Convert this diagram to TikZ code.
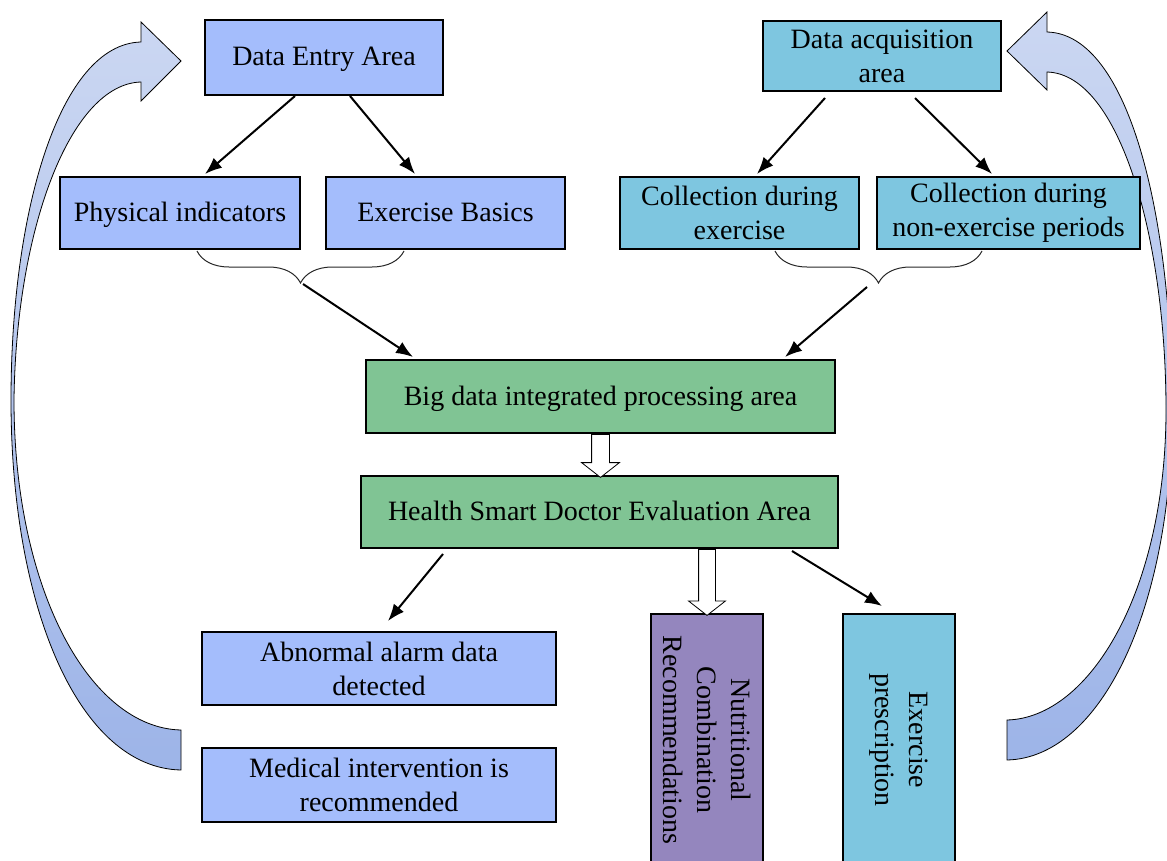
\documentclass[tikz,border=0pt]{standalone}
\usepackage{fontspec}
\setmainfont{Liberation Serif}
\usetikzlibrary{positioning, arrows.meta, shapes, decorations.pathreplacing}

\definecolor{boxblue}{RGB}{164,189,252}
\definecolor{boxcyan}{RGB}{126,198,224}
\definecolor{boxgreen}{RGB}{128,196,148}
\definecolor{boxpurple}{RGB}{148,134,190}
\definecolor{loopTop}{RGB}{203,215,242}
\definecolor{loopBottom}{RGB}{157,180,232}

\begin{document}
\begin{tikzpicture}[x=1pt, y=-1pt,
    box/.style={draw=black, line width=2pt, minimum height=72pt, align=center, inner sep=2pt, font=\fontsize{28}{34}\selectfont},
    oneline/.style={box, text height=20pt, text depth=3pt},
    link/.style={-{Latex[length=17pt,width=13pt]}, line width=2pt},
    hollow/.style={single arrow, draw=black, fill=white, line width=0.8pt, rotate=-90, anchor=tail, inner xsep=0pt, inner ysep=8.5pt, single arrow head extend=10pt, single arrow tip angle=104},
    loop/.style={draw=black, line width=0.8pt, top color=loopTop, bottom color=loopBottom},
    curly/.style={decorate, decoration={brace, mirror, amplitude=32pt}, line width=1pt, draw=black!85}]
    \useasboundingbox (0,0) rectangle (1167,861);

    % Feedback arrows
    \draw[loop] (181,61) -- (141,101) -- (141,82) .. controls (70,84) and (16,230) .. (14,400) .. controls (14,590) and (90,728) .. (181,730) -- (181,770) .. controls (80,768) and (11,610) .. (11,400) .. controls (11,210) and (60,44) .. (141,42) -- (141,22) -- cycle;
    \draw[loop] (1007,51) -- (1047,12) -- (1047,32) .. controls (1130,34) and (1172,220) .. (1172,410) .. controls (1172,610) and (1100,758) .. (1007,760) -- (1007,720) .. controls (1090,718) and (1166,590) .. (1166,410) .. controls (1166,240) and (1120,74) .. (1047,72) -- (1047,90) -- cycle;

    % Input areas
    \node[oneline, fill=boxblue, minimum width=238pt, minimum height=75pt] (entry) at (324,57.5) {Data Entry Area};
    \node[box, fill=boxcyan, minimum width=238pt, minimum height=70pt] (acq) at (882,56) {Data acquisition\\area};
    \node[oneline, fill=boxblue, minimum width=240pt] (phys) at (180,213) {Physical indicators};
    \node[oneline, fill=boxblue, minimum width=239pt, right=24pt of phys] (basics) {Exercise Basics};
    \node[box, fill=boxcyan, minimum width=239pt] (coll1) at (739.5,213) {Collection during\\exercise};
    \node[box, fill=boxcyan, minimum width=263pt, right=16pt of coll1] (coll2) {Collection during\\non-exercise periods};

    % Processing and evaluation
    \node[oneline, fill=boxgreen, minimum width=469pt, minimum height=73pt] (big) at (600.5,396.5) {Big data integrated processing area};
    \node[oneline, fill=boxgreen, minimum width=477pt] (health) at (599.5,512) {Health Smart Doctor Evaluation Area};

    % Outputs
    \node[box, fill=boxblue, minimum width=354pt, minimum height=73pt] (alarm) at (379,668.5) {Abnormal alarm data\\detected};
    \node[box, fill=boxblue, minimum width=354pt, minimum height=74pt, below=41pt of alarm] (medical) {Medical intervention is\\recommended};
    \node[box, fill=boxpurple, rotate=-90, minimum width=252pt, minimum height=112pt] (nutri) at (707,740) {Nutritional\\Combination\\Recommendations};
    \node[box, fill=boxcyan, rotate=-90, minimum width=252pt, minimum height=112pt] (presc) at (899,740) {Exercise\\prescription};

    % Braces
    \draw[curly] (197,251) -- (404,251);
    \draw[curly] (775,251) -- (982,251);
    \coordinate (lbrace) at (303,284);
    \coordinate (rbrace) at (867,287);

    \draw[link] ([xshift=-29pt]entry.south) -- ([xshift=25pt,yshift=2pt]phys.north);
    \draw[link] ([xshift=26pt]entry.south) -- ([xshift=-30.5pt,yshift=2pt]basics.north);
    \draw[link] ([xshift=-57pt,yshift=-6pt]acq.south) -- ([xshift=17.5pt,yshift=2pt]coll1.north);
    \draw[link] ([xshift=33pt,yshift=-6pt]acq.south) -- ([xshift=-16.5pt,yshift=2pt]coll2.north);
    \draw[link] (lbrace) -- ([xshift=-187.5pt,yshift=2pt]big.north);
    \draw[link] (rbrace) -- ([xshift=184.5pt,yshift=2pt]big.north);
    \node[hollow, minimum height=43pt] (toeval) at (big.south) {};
    \draw[link] ([xshift=-156.5pt,yshift=-5pt]health.south) -- ([xshift=9pt,yshift=10pt]alarm.north);
    \node[hollow, minimum height=66pt, inner ysep=8pt] (tonutri) at (health.south -| nutri.west) {};
    \draw[link] ([xshift=192.5pt,yshift=-2pt]health.south) -- ([xshift=-17pt,yshift=7pt]presc.west);
\end{tikzpicture}
\end{document}
